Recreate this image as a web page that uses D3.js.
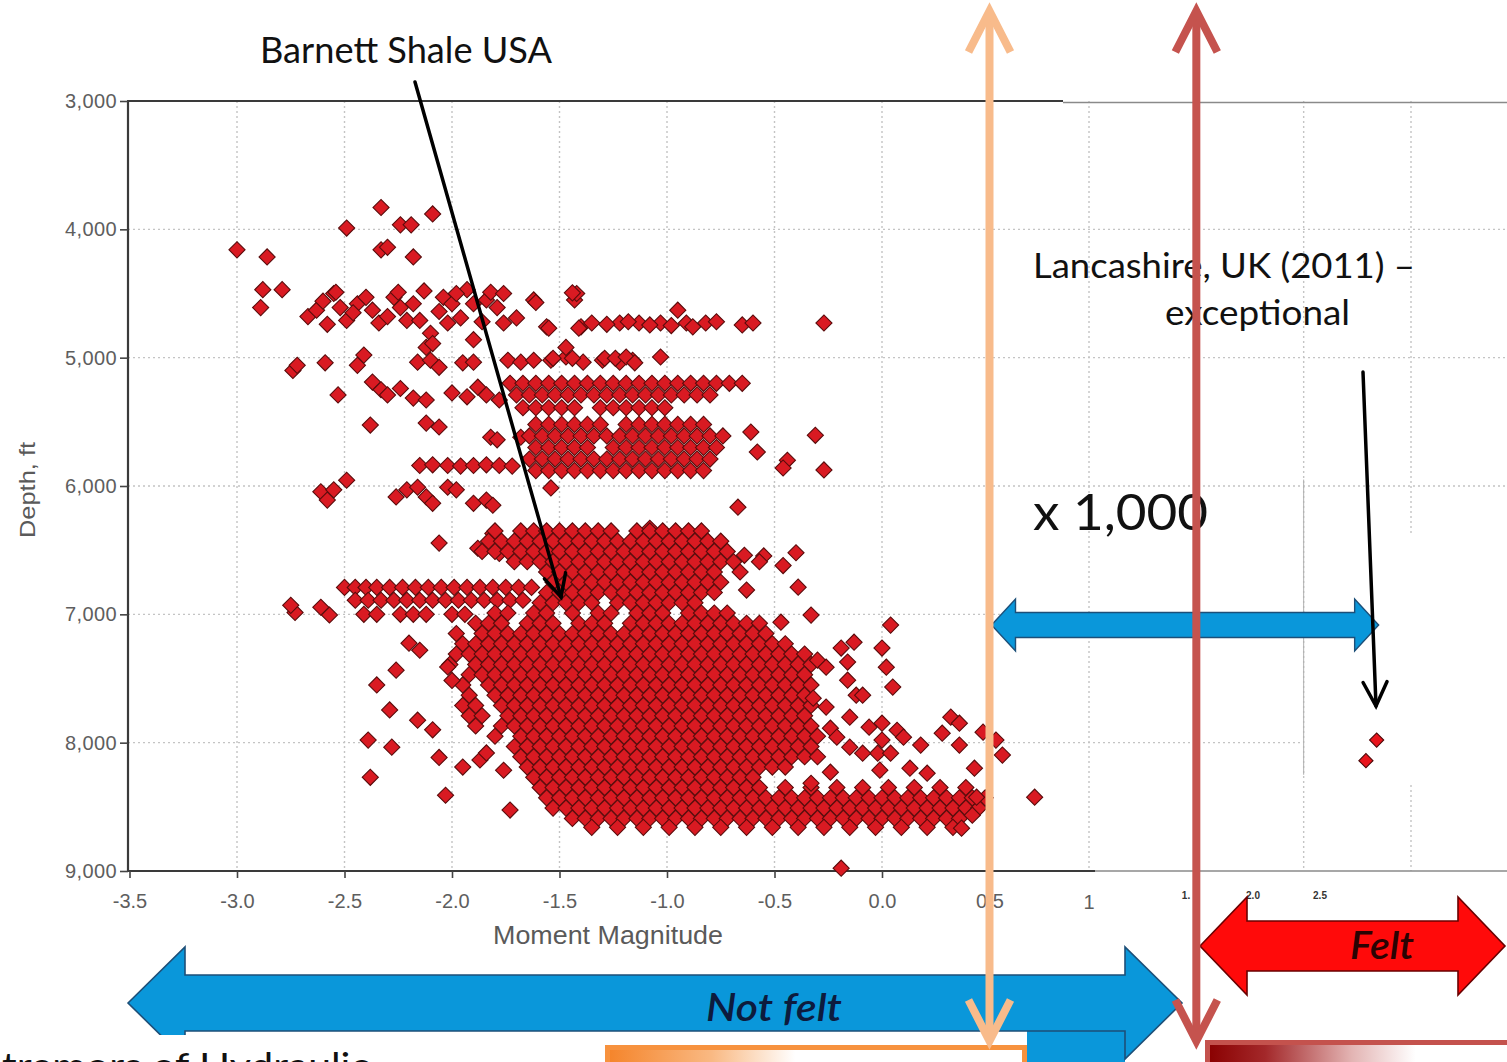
<!DOCTYPE html>
<html>
<head>
<meta charset="utf-8">
<script src="https://cdn.jsdelivr.net/npm/d3@7"></script>
<style>
  html, body { margin: 0; padding: 0; background: #fff; overflow: hidden; }
  svg { display: block; }
</style>
</head>
<body>
<svg id="chart" width="1507" height="1062"></svg>
<script>
// ---------------------------------------------------------------------------
// Data: microseismic events, Barnett Shale (moment magnitude vs depth in ft)
// ---------------------------------------------------------------------------

// Axis ticks
const depthTicks = [3000, 4000, 5000, 6000, 7000, 8000, 9000];
const magTicks = [-3.5, -3.0, -2.5, -2.0, -1.5, -1.0, -0.5, 0.0, 0.5];
const highGridMags = [1.0, 1.5, 2.0, 2.5];
const insetTickMags = [1.5, 2.0, 2.5];
const insetTickLabels = ["1.", "2.0", "2.5"];

// Shallow isolated events [magnitude, depth]
const shallowEvents = [
  [-2.33, 3830], [-2.09, 3880], [-2.24, 3965], [-2.19, 3965], [-2.49, 3990],
  [-3.00, 4160], [-2.33, 4160], [-2.30, 4140], [-2.86, 4215], [-2.18, 4215]
];

// Upper band events, roughly 4,450-4,950 ft [magnitude, depth]
const upperEvents = [
  [-2.88,4470],[-2.89,4610],[-2.79,4470],[-2.67,4680],[-2.63,4630],[-2.55,4500],[-2.52,4610],
  [-2.49,4710],[-2.44,4580],[-2.40,4530],[-2.37,4630],[-2.34,4730],[-2.27,4530],[-2.24,4610],
  [-2.21,4710],[-2.15,4710],[-2.10,4810],[-2.12,4920],[-2.09,4890],[-2.04,4530],[-2.00,4580],
  [-2.02,4730],[-1.93,4470],[-1.90,4580],[-1.84,4550],[-1.79,4610],[-1.76,4730],[-1.90,4860],
  [-1.62,4550],[-1.56,4760],[-1.43,4550],[-1.40,4760],[-1.35,4730],[-1.22,4730],[-1.13,4730],
  [-1.03,4730],[-0.95,4630],[-0.91,4730],[-0.88,4760],[-0.82,4730],[-0.77,4720],[-0.65,4745],
  [-0.60,4730],[-0.27,4730],[-1.61,4570],[-1.55,4770],[-1.41,4770],[-1.28,4740],[-1.18,4720],
  [-1.08,4745],[-0.98,4750],[-2.60,4560],[-2.46,4650],[-2.30,4680],[-2.18,4580],[-2.06,4640],
  [-1.96,4690],[-1.86,4720],[-1.70,4690],[-2.58,4740],[-1.98,4500],[-2.13,4480],[-2.54,4490],
  [-2.25,4490],[-1.82,4490],[-1.76,4500],[-1.42,4500],[-1.44,4495]
];

// Middle bands, roughly 4,900-6,650 ft [magnitude, depth]
const middleEvents = [
  [-2.74,5100],[-2.72,5060],[-2.59,5040],[-2.44,5060],[-2.41,4980],[-2.16,5035],[-2.10,5020],
  [-2.06,5075],[-1.95,5040],[-1.90,5035],[-1.74,5020],[-1.68,5035],[-1.62,5020],[-1.54,5020],
  [-1.47,4995],[-1.39,5035],[-1.30,5020],[-1.22,5035],[-1.16,5020],[-1.03,4995],[-1.47,4920],
  [-1.53,5005],[-1.44,5005],[-1.29,5005],[-1.24,5005],[-1.19,4995],[-1.15,5040],
  [-2.53,5290],[-2.37,5190],[-2.33,5250],[-2.30,5290],[-2.24,5240],[-2.18,5315],[-2.12,5330],
  [-2.00,5275],[-1.93,5305],[-1.88,5230],[-1.84,5290],[-1.78,5330],
  [-2.38,5525],[-2.12,5510],[-2.06,5540],[-1.82,5620],[-1.79,5640],[-1.68,5620],[-0.61,5580],
  [-0.58,5735],[-0.44,5800],[-0.46,5860],[-0.31,5605],[-0.27,5875],
  [-2.15,5840],[-2.09,5835],[-2.02,5840],[-1.96,5845],[-1.90,5840],[-1.84,5835],[-1.78,5840],[-1.72,5845],
  [-2.61,6045],[-2.55,6030],[-2.49,5955],[-2.58,6110],[-2.26,6085],[-2.21,6030],[-2.16,6010],
  [-2.12,6085],[-2.09,6135],[-2.02,6010],[-1.98,6030],[-1.90,6135],[-1.84,6110],[-1.81,6150],
  [-1.54,6015],[-0.67,6165],
  [-2.06,6445],[-1.88,6485],[-1.81,6370],[-1.78,6525],[-1.08,6330],[-0.55,6545],[-0.40,6520],
  [-0.46,6620],[-0.64,6540]
];

// Dense middle bands as rows: [depth, magnitudes]
const bandRows = [
  [5200, [-1.73,-1.67,-1.61,-1.55,-1.49,-1.43,-1.37,-1.31,-1.25,-1.19,-1.13,-1.07,-1.01,-0.95,-0.89,-0.83,-0.77,-0.71,-0.65]],
  [5290, [-1.70,-1.64,-1.58,-1.52,-1.46,-1.40,-1.34,-1.28,-1.22,-1.16,-1.10,-1.04,-0.98,-0.92,-0.86,-0.80]],
  [5390, [-1.67,-1.61,-1.55,-1.49,-1.43,-1.31,-1.25,-1.19,-1.13,-1.07,-1.01]],
  [5520, [-1.61,-1.55,-1.49,-1.43,-1.37,-1.31,-1.19,-1.13,-1.07,-1.01,-0.95,-0.89,-0.83]],
  [5610, [-1.64,-1.58,-1.52,-1.46,-1.40,-1.34,-1.28,-1.22,-1.16,-1.10,-1.04,-0.98,-0.92,-0.86,-0.80,-0.74]],
  [5700, [-1.61,-1.55,-1.49,-1.43,-1.37,-1.25,-1.19,-1.13,-1.07,-1.01,-0.95,-0.89,-0.83,-0.77]],
  [5790, [-1.64,-1.58,-1.52,-1.46,-1.40,-1.34,-1.28,-1.22,-1.16,-1.10,-1.04,-0.98,-0.92,-0.86,-0.80]],
  [5880, [-1.61,-1.55,-1.49,-1.43,-1.37,-1.31,-1.25,-1.19,-1.13,-1.07,-1.01,-0.95,-0.89,-0.83]]
];

// Westward tail near 6,800-7,000 ft: [depth, magnitudes]
const tailRows = [
  [6790, [-2.50,-2.45,-2.40,-2.35,-2.29,-2.23,-2.17,-2.11,-2.05,-1.99,-1.93,-1.87,-1.81,-1.75,-1.69,-1.63]],
  [6890, [-2.45,-2.39,-2.33,-2.27,-2.21,-2.15,-2.09,-2.03,-1.97,-1.91,-1.85,-1.79,-1.73,-1.67]],
  [7000, [-2.41,-2.35,-2.24,-2.18,-2.12,-2.00,-1.94]]
];

// Main cluster, 6,350-8,650 ft: [depth, magnitudes]
const coreRows = [
  [6350, [-1.80,-1.68,-1.62,-1.56,-1.50,-1.44,-1.38,-1.32,-1.26,-1.14,-1.08,-1.02,-0.96,-0.90,-0.84]],
  [6430, [-1.83,-1.77,-1.71,-1.65,-1.59,-1.53,-1.47,-1.41,-1.35,-1.29,-1.23,-1.17,-1.11,-1.05,-0.99,-0.93,-0.87,-0.81,-0.75]],
  [6510, [-1.86,-1.80,-1.74,-1.68,-1.62,-1.56,-1.50,-1.44,-1.38,-1.32,-1.26,-1.20,-1.14,-1.08,-1.02,-0.96,-0.90,-0.84,-0.78,-0.72]],
  [6590, [-1.71,-1.65,-1.59,-1.53,-1.47,-1.41,-1.35,-1.29,-1.23,-1.17,-1.11,-1.05,-0.99,-0.93,-0.87,-0.81,-0.75,-0.69,-0.57]],
  [6670, [-1.56,-1.50,-1.44,-1.38,-1.32,-1.26,-1.20,-1.14,-1.08,-1.02,-0.96,-0.90,-0.84,-0.78,-0.66]],
  [6750, [-1.53,-1.47,-1.41,-1.35,-1.29,-1.23,-1.17,-1.11,-1.05,-0.99,-0.93,-0.87,-0.81,-0.75]],
  [6830, [-1.56,-1.50,-1.44,-1.38,-1.32,-1.26,-1.20,-1.14,-1.08,-1.02,-0.96,-0.90,-0.84,-0.78]],
  [6910, [-1.59,-1.53,-1.47,-1.41,-1.35,-1.23,-1.17,-1.11,-1.05,-0.99,-0.93,-0.87]],
  [6990, [-1.80,-1.74,-1.62,-1.56,-1.44,-1.32,-1.26,-1.14,-1.08,-1.02,-0.90,-0.84,-0.78,-0.72]],
  [7070, [-1.89,-1.83,-1.77,-1.65,-1.59,-1.53,-1.41,-1.35,-1.29,-1.17,-1.11,-1.05,-0.99,-0.93,-0.87,-0.81,-0.75,-0.69,-0.63,-0.57]],
  [7150, [-1.98,-1.86,-1.80,-1.74,-1.68,-1.62,-1.56,-1.50,-1.44,-1.38,-1.32,-1.26,-1.20,-1.14,-1.08,-1.02,-0.96,-0.90,-0.84,-0.78,-0.72,-0.66,-0.60,-0.54]],
  [7230, [-1.95,-1.89,-1.83,-1.77,-1.71,-1.65,-1.59,-1.53,-1.47,-1.41,-1.35,-1.29,-1.23,-1.17,-1.11,-1.05,-0.99,-0.93,-0.87,-0.81,-0.75,-0.69,-0.63,-0.57,-0.51,-0.45]],
  [7310, [-1.98,-1.92,-1.86,-1.80,-1.74,-1.68,-1.62,-1.56,-1.50,-1.44,-1.38,-1.32,-1.26,-1.20,-1.14,-1.08,-1.02,-0.96,-0.90,-0.84,-0.78,-0.72,-0.66,-0.60,-0.54,-0.48,-0.42,-0.36]],
  [7390, [-2.01,-1.89,-1.83,-1.77,-1.71,-1.65,-1.59,-1.53,-1.47,-1.41,-1.35,-1.29,-1.23,-1.17,-1.11,-1.05,-0.99,-0.93,-0.87,-0.81,-0.75,-0.69,-0.63,-0.57,-0.51,-0.45,-0.39,-0.33]],
  [7470, [-1.92,-1.86,-1.80,-1.74,-1.68,-1.62,-1.56,-1.50,-1.44,-1.38,-1.32,-1.26,-1.20,-1.14,-1.08,-1.02,-0.96,-0.90,-0.84,-0.78,-0.72,-0.66,-0.60,-0.54,-0.48,-0.42,-0.36]],
  [7550, [-1.95,-1.83,-1.77,-1.71,-1.65,-1.59,-1.53,-1.47,-1.41,-1.35,-1.29,-1.23,-1.17,-1.11,-1.05,-0.99,-0.93,-0.87,-0.81,-0.75,-0.69,-0.63,-0.57,-0.51,-0.45,-0.39,-0.33]],
  [7630, [-1.92,-1.80,-1.74,-1.68,-1.62,-1.56,-1.50,-1.44,-1.38,-1.32,-1.26,-1.20,-1.14,-1.08,-1.02,-0.96,-0.90,-0.84,-0.78,-0.72,-0.66,-0.60,-0.54,-0.48,-0.42,-0.36]],
  [7710, [-1.95,-1.89,-1.77,-1.71,-1.65,-1.59,-1.53,-1.47,-1.41,-1.35,-1.29,-1.23,-1.17,-1.11,-1.05,-0.99,-0.93,-0.87,-0.81,-0.75,-0.69,-0.63,-0.57,-0.51,-0.45,-0.39,-0.33]],
  [7790, [-1.92,-1.86,-1.74,-1.68,-1.62,-1.56,-1.50,-1.44,-1.38,-1.32,-1.26,-1.20,-1.14,-1.08,-1.02,-0.96,-0.90,-0.84,-0.78,-0.72,-0.66,-0.60,-0.54,-0.48,-0.42,-0.36]],
  [7870, [-1.89,-1.77,-1.71,-1.65,-1.59,-1.53,-1.47,-1.41,-1.35,-1.29,-1.23,-1.17,-1.11,-1.05,-0.99,-0.93,-0.87,-0.81,-0.75,-0.69,-0.63,-0.57,-0.51,-0.45,-0.39,-0.33]],
  [7950, [-1.80,-1.68,-1.62,-1.56,-1.50,-1.44,-1.38,-1.32,-1.26,-1.20,-1.14,-1.08,-1.02,-0.96,-0.90,-0.84,-0.78,-0.72,-0.66,-0.60,-0.54,-0.48,-0.42,-0.36,-0.30]],
  [8030, [-1.71,-1.65,-1.59,-1.53,-1.47,-1.41,-1.35,-1.29,-1.23,-1.17,-1.11,-1.05,-0.99,-0.93,-0.87,-0.81,-0.75,-0.69,-0.63,-0.57,-0.51,-0.45,-0.39,-0.33]],
  [8110, [-1.68,-1.62,-1.56,-1.50,-1.44,-1.38,-1.32,-1.26,-1.20,-1.14,-1.08,-1.02,-0.96,-0.90,-0.84,-0.78,-0.72,-0.66,-0.60,-0.54,-0.48,-0.42,-0.36,-0.30]],
  [8190, [-1.65,-1.59,-1.53,-1.47,-1.41,-1.35,-1.29,-1.23,-1.17,-1.11,-1.05,-0.99,-0.93,-0.87,-0.81,-0.75,-0.69,-0.63,-0.57,-0.51,-0.45]],
  [8270, [-1.62,-1.56,-1.50,-1.44,-1.38,-1.32,-1.26,-1.20,-1.14,-1.08,-1.02,-0.96,-0.90,-0.84,-0.78,-0.72,-0.66,-0.60]],
  [8350, [-1.59,-1.53,-1.47,-1.41,-1.35,-1.29,-1.23,-1.17,-1.11,-1.05,-0.99,-0.93,-0.87,-0.81,-0.75,-0.69,-0.63,-0.57,-0.45,-0.33,-0.21,-0.09,0.03,0.15,0.27,0.39]],
  [8430, [-1.56,-1.50,-1.44,-1.38,-1.32,-1.26,-1.20,-1.14,-1.08,-1.02,-0.96,-0.90,-0.84,-0.78,-0.72,-0.66,-0.60,-0.54,-0.48,-0.42,-0.36,-0.30,-0.24,-0.18,-0.12,-0.06,0.00,0.06,0.12,0.18,0.24,0.30,0.36,0.42,0.48]],
  [8510, [-1.53,-1.47,-1.41,-1.35,-1.29,-1.23,-1.17,-1.11,-1.05,-0.99,-0.93,-0.87,-0.81,-0.75,-0.69,-0.63,-0.57,-0.51,-0.45,-0.39,-0.33,-0.27,-0.21,-0.15,-0.09,-0.03,0.03,0.09,0.15,0.21,0.27,0.33,0.39,0.45]],
  [8590, [-1.44,-1.38,-1.32,-1.26,-1.20,-1.14,-1.08,-1.02,-0.96,-0.90,-0.84,-0.78,-0.72,-0.66,-0.60,-0.54,-0.48,-0.42,-0.36,-0.30,-0.24,-0.18,-0.12,-0.06,0.00,0.06,0.12,0.18,0.24,0.30,0.36]],
  [8660, [-1.35,-1.23,-1.11,-0.99,-0.87,-0.75,-0.63,-0.51,-0.39,-0.27,-0.15,-0.03,0.09,0.21,0.33]]
];

// Scattered events around the main cluster [magnitude, depth]
const outlyingEvents = [
  [-2.73,6985],[-2.75,6930],[-2.61,6945],[-2.57,7005],
  [-2.20,7225],[-2.15,7280],[-2.26,7435],[-2.35,7550],[-2.29,7745],[-2.16,7825],[-2.09,7900],
  [-2.02,7410],[-2.00,7515],[-2.39,7980],[-2.28,8035],[-2.38,8270],[-2.06,8115],[-1.95,8190],
  [-1.87,8135],[-1.84,8080],[-1.76,8215],[-2.03,8410],[-1.73,8525],
  [-0.63,6811],[-0.39,6788],[-0.47,7061],[-0.33,7006],[0.04,7084],[-0.19,7263],[-0.13,7217],
  [0.00,7263],[-0.30,7357],[-0.26,7412],[-0.16,7372],[0.02,7412],[0.05,7567],[-0.16,7513],
  [-0.12,7630],[-0.09,7630],[-0.32,7653],[-0.26,7723],[-0.15,7801],[0.32,7801],[0.36,7848],
  [0.28,7926],[0.36,8019],[0.47,7918],[0.53,7980],[0.56,8097],[0.43,8199],[0.71,8425],
  [-0.24,7887],[-0.21,7957],[-0.06,7879],[0.00,7848],[0.07,7903],[0.00,7980],[-0.02,8082],
  [0.04,8082],[0.10,7957],[0.18,8019],[0.13,8199],[0.21,8238],[-0.15,8035],[-0.09,8082],
  [-0.01,8214],[-0.24,8230],[-0.33,8316],[0.37,8666],[0.42,8565],[0.44,8425],[-0.19,8978]
];

// Lancashire, UK (2011)
const lancashireMags = [2.34, 2.29];
const lancashireDepths = [7980, 8140];

// ---------------------------------------------------------------------------
// Drawing
// ---------------------------------------------------------------------------
const W = 1507, H = 1062;
const svg = d3.select("#chart");

const x = d3.scaleLinear().domain([-3.5, 1]).range([129.5, 1097]);
const xHigh = d3.scaleLinear().domain([1, 2.5]).range([1089, 1411]);
const xInset = d3.scaleLinear().domain([1.5, 2.5]).range([1186, 1320]);
const y = d3.scaleLinear().domain([3000, 9000]).range([101, 871]);

const calibriLike = "Lato, 'Open Sans', 'Noto Sans', sans-serif";
const axisFont = "'Liberation Sans', Arial, sans-serif";

const defs = svg.append("defs");
const gOrange = defs.append("linearGradient").attr("id", "orangeFill").attr("x1", 0).attr("x2", 1).attr("y1", 0).attr("y2", 0);
gOrange.append("stop").attr("offset", "0%").attr("stop-color", "#F5842A");
gOrange.append("stop").attr("offset", "25%").attr("stop-color", "#F9B983");
gOrange.append("stop").attr("offset", "45%").attr("stop-color", "#ffffff");
const gRed = defs.append("linearGradient").attr("id", "redFill").attr("x1", 0).attr("x2", 1).attr("y1", 0).attr("y2", 0);
gRed.append("stop").attr("offset", "0%").attr("stop-color", "#8A0000");
gRed.append("stop").attr("offset", "18%").attr("stop-color", "#A3282A");
gRed.append("stop").attr("offset", "45%").attr("stop-color", "#E3B4B3");
gRed.append("stop").attr("offset", "65%").attr("stop-color", "#ffffff");

// --- gridlines -------------------------------------------------------------
const grid = svg.append("g")
  .attr("stroke", "#c4c4c4").attr("stroke-width", 1.4).attr("stroke-dasharray", "2,3").attr("fill", "none");

grid.selectAll("line.vmag").data(magTicks.filter(d => d > -3.5)).join("line")
  .attr("x1", d => x(d)).attr("x2", d => x(d)).attr("y1", y(3000)).attr("y2", y(9000));

grid.selectAll("line.vhigh").data(highGridMags.slice(0, 3)).join("line")
  .attr("x1", d => xHigh(d)).attr("x2", d => xHigh(d)).attr("y1", y(3000)).attr("y2", y(9000));

// the 2.5 gridline is broken where the right-hand block is blank
grid.append("line").attr("x1", xHigh(2.5)).attr("x2", xHigh(2.5)).attr("y1", y(3000)).attr("y2", y(6380));
grid.append("line").attr("x1", xHigh(2.5)).attr("x2", xHigh(2.5)).attr("y1", y(8330)).attr("y2", y(9000));

grid.selectAll("line.h").data(depthTicks.slice(1, -1)).join("line")
  .attr("x1", 128)
  .attr("x2", d => d >= 7000 ? xHigh(2.0) : W)
  .attr("y1", d => y(d)).attr("y2", d => y(d));

// faint solid rule in the right-hand block
svg.append("line").attr("x1", xHigh(2.0)).attr("x2", xHigh(2.0))
  .attr("y1", y(5950)).attr("y2", y(8250)).attr("stroke", "#b0b0b0").attr("stroke-width", 1);

// --- frame -----------------------------------------------------------------
const frame = svg.append("g").attr("fill", "none");
frame.append("line").attr("x1", 128).attr("x2", 128).attr("y1", y(3000)).attr("y2", y(9000))
  .attr("stroke", "#3a3a3a").attr("stroke-width", 2.2);
frame.append("line").attr("x1", 127).attr("x2", 1063).attr("y1", y(3000)).attr("y2", y(3000))
  .attr("stroke", "#3a3a3a").attr("stroke-width", 2.2);
frame.append("line").attr("x1", 1063).attr("x2", W).attr("y1", y(3000) + 1.5).attr("y2", y(3000) + 1.5)
  .attr("stroke", "#8a8a8a").attr("stroke-width", 1.6);
frame.append("line").attr("x1", 127).attr("x2", 1095).attr("y1", y(9000)).attr("y2", y(9000))
  .attr("stroke", "#3a3a3a").attr("stroke-width", 2.2);
frame.append("line").attr("x1", 1095).attr("x2", W).attr("y1", y(9000)).attr("y2", y(9000))
  .attr("stroke", "#8a8a8a").attr("stroke-width", 1.6);

// --- axes ------------------------------------------------------------------
const yAxis = svg.append("g").attr("transform", "translate(128,0)")
  .call(d3.axisLeft(y).tickValues(depthTicks).tickSize(8).tickPadding(3).tickFormat(d3.format(",")));
yAxis.select(".domain").remove();
yAxis.selectAll("line").attr("stroke", "#444").attr("stroke-width", 1.6);
yAxis.selectAll("text").attr("font-family", axisFont).attr("font-size", 20)
  .attr("fill", "#5e5e5e").attr("letter-spacing", "0.4");

const xAxis = svg.append("g").attr("transform", `translate(0,${y(9000)})`)
  .call(d3.axisBottom(x).tickValues(magTicks).tickSize(7).tickPadding(16).tickFormat(d => d.toFixed(1)));
xAxis.select(".domain").remove();
xAxis.selectAll("line").attr("stroke", "#444").attr("stroke-width", 1.6);
xAxis.selectAll("text").attr("font-family", axisFont).attr("font-size", 20).attr("fill", "#5e5e5e");

// right-hand block labels
svg.append("text").attr("x", xHigh(1)).attr("y", 909).attr("text-anchor", "middle")
  .attr("font-family", axisFont).attr("font-size", 20).attr("fill", "#5e5e5e").text("1");
svg.append("g").selectAll("text").data(insetTickMags).join("text")
  .attr("x", d => xInset(d)).attr("y", 899).attr("text-anchor", "middle")
  .attr("font-family", axisFont).attr("font-size", 10).attr("font-weight", "bold").attr("fill", "#333")
  .text((d, i) => insetTickLabels[i]);

svg.append("text").attr("x", 608).attr("y", 944).attr("text-anchor", "middle")
  .attr("font-family", axisFont).attr("font-size", 25).attr("fill", "#5a5a5a")
  .attr("textLength", 230).attr("lengthAdjust", "spacingAndGlyphs").text("Moment Magnitude");

svg.append("text").attr("transform", "translate(35,490) rotate(-90)").attr("text-anchor", "middle")
  .attr("font-family", axisFont).attr("font-size", 22).attr("fill", "#5a5a5a")
  .attr("textLength", 96).attr("lengthAdjust", "spacingAndGlyphs").text("Depth, ft");

// --- events ----------------------------------------------------------------
const barnett = [];
[shallowEvents, upperEvents, middleEvents].forEach(list => list.forEach(p => barnett.push(p)));
[bandRows, tailRows, coreRows].forEach(rows =>
  rows.forEach(([depth, mags]) => mags.forEach(m => barnett.push([m, depth]))));
outlyingEvents.forEach(p => barnett.push(p));

const diamond = d3.symbol(d3.symbolSquare, 130);
svg.append("g").selectAll("path").data(barnett).join("path")
  .attr("d", diamond)
  .attr("transform", d => `translate(${x(d[0])},${y(d[1])}) rotate(45)`)
  .attr("fill", "#D91A22").attr("stroke", "#5a0c0c").attr("stroke-width", 1.1);

const lancashire = lancashireMags.map((m, i) => [m, lancashireDepths[i]]);
svg.append("g").selectAll("path").data(lancashire).join("path")
  .attr("d", d3.symbol(d3.symbolSquare, 100))
  .attr("transform", d => `translate(${xHigh(d[0])},${y(d[1])}) rotate(45)`)
  .attr("fill", "#E8141C").attr("stroke", "#4a0808").attr("stroke-width", 1.1);

// --- annotations -------------------------------------------------------------
function doubleArrow(x1, x2, cy, body, head, len) {
  return `M${x1},${cy} L${x1 + len},${cy - head} L${x1 + len},${cy - body} L${x2 - len},${cy - body} ` +
         `L${x2 - len},${cy - head} L${x2},${cy} L${x2 - len},${cy + head} L${x2 - len},${cy + body} ` +
         `L${x1 + len},${cy + body} L${x1 + len},${cy + head} Z`;
}

const blue = "#0A97DA", blueEdge = "#1D4F78";

// "Not felt" band
svg.append("rect").attr("x", 1027).attr("y", 1030).attr("width", 98).attr("height", 40).attr("fill", blue);
svg.append("path").attr("d", doubleArrow(128, 1182, 1003, 28, 56, 57))
  .attr("fill", blue).attr("stroke", blueEdge).attr("stroke-width", 1.6);
svg.append("text").attr("x", 706).attr("y", 1021)
  .attr("font-family", calibriLike).attr("font-style", "italic").attr("font-weight", 600)
  .attr("font-size", 38).attr("fill", "#0d1b3d")
  .attr("textLength", 136).attr("lengthAdjust", "spacingAndGlyphs").text("Not felt");

// "Felt" band
svg.append("path").attr("d", doubleArrow(1200, 1505, 946, 25, 49, 47))
  .attr("fill", "#FF0A0A").attr("stroke", "#6a0000").attr("stroke-width", 1.6);
svg.append("text").attr("x", 1350).attr("y", 959)
  .attr("font-family", calibriLike).attr("font-style", "italic").attr("font-weight", 600)
  .attr("font-size", 38).attr("fill", "#2a0303")
  .attr("textLength", 64).attr("lengthAdjust", "spacingAndGlyphs").text("Felt");

// caption block along the bottom edge (runs off the page)
svg.append("rect").attr("x", 0).attr("y", 1035).attr("width", 605).attr("height", 40).attr("fill", "#fff");
svg.append("text").attr("x", 2).attr("y", 1079)
  .attr("font-family", calibriLike).attr("font-size", 36).attr("fill", "#111")
  .attr("textLength", 368).attr("lengthAdjust", "spacingAndGlyphs").text("tremors of Hydraulic");
svg.append("rect").attr("x", 607.5).attr("y", 1047.5).attr("width", 417).attr("height", 40)
  .attr("fill", "url(#orangeFill)").attr("stroke", "#F7923E").attr("stroke-width", 5);
svg.append("rect").attr("x", 1207.5).attr("y", 1042.5).attr("width", 320).attr("height", 40)
  .attr("fill", "url(#redFill)").attr("stroke", "#C4524D").attr("stroke-width", 5);

// magnitude gap between the two data sets
svg.append("path").attr("d", doubleArrow(x(0.5) + 2, xHigh(lancashireMags[0]) + 2, 625, 12.5, 26, 24))
  .attr("fill", blue).attr("stroke", blueEdge).attr("stroke-width", 1.4);

// labels
svg.append("text").attr("x", 260).attr("y", 63)
  .attr("font-family", calibriLike).attr("font-size", 36).attr("fill", "#111")
  .attr("textLength", 292).attr("lengthAdjust", "spacingAndGlyphs").text("Barnett Shale USA");
svg.append("text").attr("x", 1033).attr("y", 278)
  .attr("font-family", calibriLike).attr("font-size", 34).attr("fill", "#111")
  .attr("textLength", 382).attr("lengthAdjust", "spacingAndGlyphs").text("Lancashire, UK (2011) –");
svg.append("text").attr("x", 1165).attr("y", 325)
  .attr("font-family", calibriLike).attr("font-size", 34).attr("fill", "#111")
  .attr("textLength", 185).attr("lengthAdjust", "spacingAndGlyphs").text("exceptional");
svg.append("text").attr("x", 1033).attr("y", 530)
  .attr("font-family", calibriLike).attr("font-size", 50).attr("fill", "#111")
  .attr("textLength", 175).attr("lengthAdjust", "spacingAndGlyphs").text("x 1,000");

// pointer lines with open heads
function pointer(x1, y1, x2, y2, back, spread) {
  const dx = x2 - x1, dy = y2 - y1, L = Math.hypot(dx, dy);
  const ux = dx / L, uy = dy / L, px = -uy, py = ux;
  const g = svg.append("g").attr("stroke", "#000").attr("fill", "none")
    .attr("stroke-width", 3.5).attr("stroke-linecap", "round").attr("stroke-linejoin", "miter");
  g.append("line").attr("x1", x1).attr("y1", y1).attr("x2", x2).attr("y2", y2);
  g.append("path").attr("d",
    `M${x2 - back * ux + spread * px},${y2 - back * uy + spread * py} L${x2},${y2} ` +
    `L${x2 - back * ux - spread * px},${y2 - back * uy - spread * py}`);
}
pointer(415, 82, 561, 597, 22, 11);
pointer(1363, 372, 1376, 706, 24, 12);

// threshold lines: M0.5 and M1.5
function thresholdLine(xp, color) {
  const g = svg.append("g").attr("stroke", color).attr("fill", "none").attr("stroke-width", 8)
    .attr("stroke-linejoin", "miter").attr("stroke-miterlimit", 10);
  g.append("line").attr("x1", xp).attr("x2", xp).attr("y1", 14).attr("y2", 1036);
  g.append("path").attr("d", `M${xp - 21},${52} L${xp},${11} L${xp + 21},${52}`);
  g.append("path").attr("d", `M${xp - 21},${1000} L${xp},${1041} L${xp + 21},${1000}`);
}
thresholdLine(x(0.5), "#F8BB8B");
thresholdLine(xHigh(1.5), "#C5534E");
</script>
</body>
</html>
